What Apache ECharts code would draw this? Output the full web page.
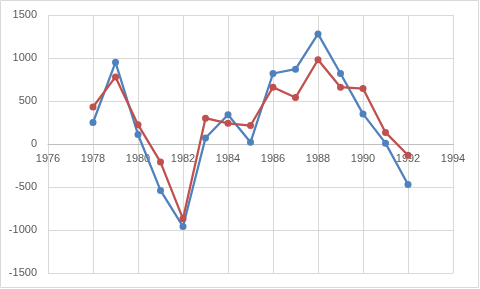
<!DOCTYPE html>
<html>
<head>
<meta charset="utf-8">
<script src="https://cdn.jsdelivr.net/npm/echarts@6/dist/echarts.min.js"></script>
<style>html,body{margin:0;padding:0;background:#fff}#c{width:480px;height:289px}</style>
</head>
<body>
<div id="c"></div>
<script>
var years = [1978,1979,1980,1981,1982,1983,1984,1985,1986,1987,1988,1989,1990,1991,1992];
var blueValues = [250,950,110,-540,-960,70,340,20,820,870,1280,820,350,10,-470];
var redValues = [430,780,225,-210,-870,300,240,215,660,540,980,660,645,135,-130];
var xTicks = [1976,1978,1980,1982,1984,1986,1988,1990,1992,1994];
var yTicks = [-1500,-1000,-500,0,500,1000,1500];

function pairs(xs, ys){ return xs.map(function(x,i){ return [x, ys[i]]; }); }

var gridTop = 15, gridBottom = 16, H = 289;
var plotH = H - gridTop - gridBottom;
var yMin = yTicks[0], yMax = yTicks[yTicks.length-1];
// move x axis (line + labels) up to the y=0 position
var zeroOffset = -Math.round(plotH * (0 - yMin) / (yMax - yMin));

var chart = echarts.init(document.getElementById('c'), null, {renderer:'canvas'});
chart.setOption({
  animation:false,
  backgroundColor:'#fff',
  graphic:[{type:'rect', shape:{x:0.5,y:0.5,width:478,height:287}, style:{fill:null, stroke:'#d9d9d9', lineWidth:1}, silent:true}],
  grid:{left:48, right:27, top:gridTop, bottom:gridBottom, containLabel:false},
  xAxis:{
    type:'value', min:xTicks[0], max:xTicks[xTicks.length-1], interval:2,
    offset: zeroOffset,
    axisLine:{show:true, onZero:false, lineStyle:{color:'#bfbfbf', width:1}},
    axisTick:{show:false},
    axisLabel:{color:'#595959', fontSize:11, fontFamily:'Liberation Sans', margin:9, formatter:function(v){return String(v);}},
    splitLine:{show:true, lineStyle:{color:'#d9d9d9', width:1}}
  },
  yAxis:{
    type:'value', min:yMin, max:yMax, interval:500,
    axisLine:{show:false}, axisTick:{show:false},
    axisLabel:{color:'#595959', fontSize:11, fontFamily:'Liberation Sans', margin:11, formatter:function(v){return String(v);}},
    splitLine:{show:true, lineStyle:{color:'#d9d9d9', width:1}}
  },
  series:[
    {type:'line', data:pairs(years, blueValues), symbol:'circle', symbolSize:7,
     lineStyle:{color:'#4F81BD', width:2.25}, itemStyle:{color:'#4F81BD'}, z:2},
    {type:'line', data:pairs(years, redValues), symbol:'circle', symbolSize:7,
     lineStyle:{color:'#C0504D', width:2.25}, itemStyle:{color:'#C0504D'}, z:3}
  ]
});
</script>
</body>
</html>
